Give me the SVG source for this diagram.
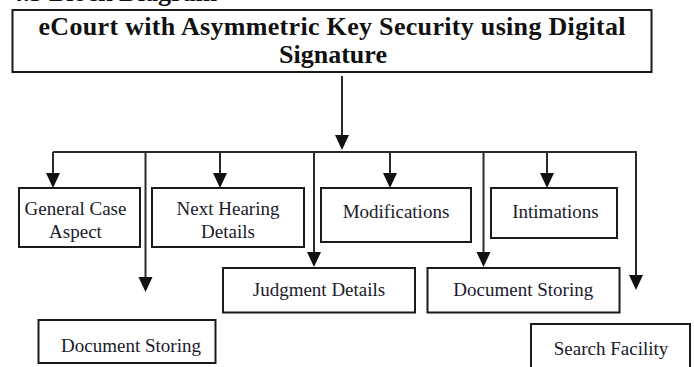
<svg xmlns="http://www.w3.org/2000/svg" width="694" height="367" viewBox="0 0 694 367">
  <style>
    .box { fill: #ffffff; stroke: #1a1a1a; stroke-width: 2; }
    .lbl { font-family: "Liberation Serif", "Times New Roman", serif; font-size: 19px; fill: #1a1a2a; text-anchor: middle; }
    .ttl { font-family: "Liberation Serif", "Times New Roman", serif; font-size: 26px; font-weight: bold; fill: #111111; text-anchor: middle; }
    .con { fill: none; stroke: #2a2a2a; stroke-width: 2; }
    .head { fill: #111111; }
  </style>
  <defs>
    <polygon id="ah" class="head" points="-7,-15 7,-15 0,0"/>
  </defs>

  <text x="10" y="0.5" font-family="Liberation Serif, serif" font-size="26" font-weight="bold" fill="#111">4.3 Block Diagram</text>

  <g id="title">
    <rect class="box" x="12.5" y="10" width="639" height="62"/>
    <text class="ttl" x="332" y="35" textLength="587" lengthAdjust="spacing">eCourt with Asymmetric Key Security using Digital</text>
    <text class="ttl" x="333" y="63">Signature</text>
  </g>

  <g id="connectors">
    <line class="con" x1="342" y1="76" x2="342" y2="136"/>
    <use href="#ah" x="342" y="150"/>
    <line class="con" x1="53" y1="152" x2="637" y2="152"/>
    <line class="con" x1="53" y1="152" x2="53" y2="174"/>
    <use href="#ah" x="53" y="188"/>
    <line class="con" x1="145.5" y1="152" x2="145.5" y2="278"/>
    <use href="#ah" x="145.5" y="292"/>
    <line class="con" x1="220" y1="152" x2="220" y2="174"/>
    <use href="#ah" x="220" y="188"/>
    <line class="con" x1="314" y1="152" x2="314" y2="253"/>
    <use href="#ah" x="314" y="267"/>
    <line class="con" x1="390" y1="152" x2="390" y2="174"/>
    <use href="#ah" x="390" y="188"/>
    <line class="con" x1="483.5" y1="152" x2="483.5" y2="253"/>
    <use href="#ah" x="483.5" y="267"/>
    <line class="con" x1="547" y1="152" x2="547" y2="174"/>
    <use href="#ah" x="547" y="188"/>
    <line class="con" x1="636" y1="151" x2="636" y2="276"/>
    <use href="#ah" x="636" y="290"/>
  </g>

  <g id="general-case-aspect">
    <rect class="box" x="19" y="188" width="121" height="59"/>
    <text class="lbl" x="75.5" y="215">General Case</text>
    <text class="lbl" x="75.5" y="238">Aspect</text>
  </g>

  <g id="next-hearing-details">
    <rect class="box" x="152" y="188" width="152" height="59"/>
    <text class="lbl" x="228" y="215">Next Hearing</text>
    <text class="lbl" x="228" y="238">Details</text>
  </g>

  <g id="modifications">
    <rect class="box" x="321" y="188" width="150" height="54"/>
    <text class="lbl" x="396" y="218">Modifications</text>
  </g>

  <g id="intimations">
    <rect class="box" x="491" y="188" width="126" height="50"/>
    <text class="lbl" x="555.5" y="218">Intimations</text>
  </g>

  <g id="judgment-details">
    <rect class="box" x="223" y="268" width="192" height="44.5"/>
    <text class="lbl" x="319" y="296">Judgment Details</text>
  </g>

  <g id="document-storing-right">
    <rect class="box" x="427.5" y="268" width="192" height="44.5"/>
    <text class="lbl" x="523.3" y="296">Document Storing</text>
  </g>

  <g id="document-storing-left">
    <rect class="box" x="38.5" y="320" width="177" height="43"/>
    <text class="lbl" x="131" y="351.5">Document Storing</text>
  </g>

  <g id="search-facility">
    <rect class="box" x="531" y="324" width="159" height="50"/>
    <text class="lbl" x="611" y="355">Search Facility</text>
  </g>
</svg>
